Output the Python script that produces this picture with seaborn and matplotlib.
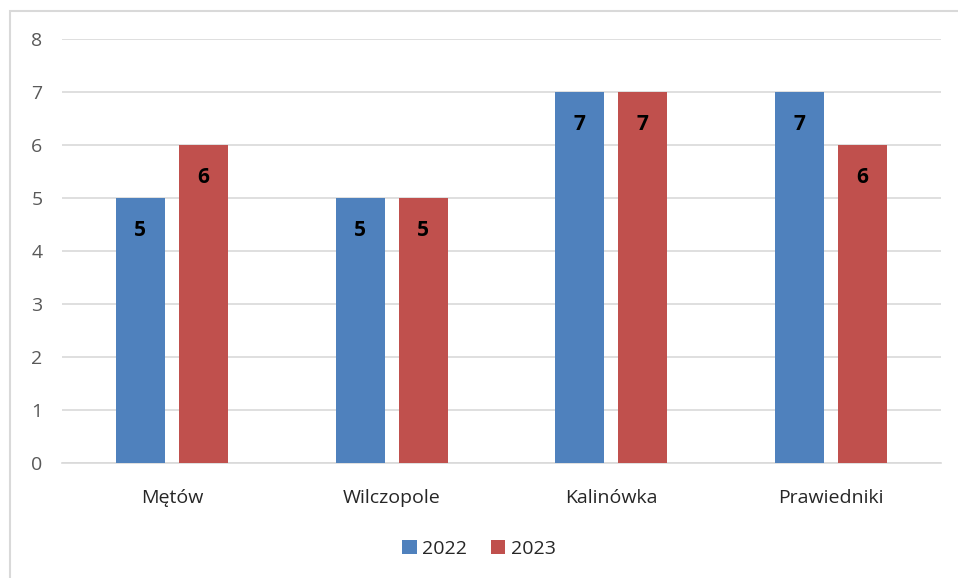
# Bar chart: counts per village, 2022 vs 2023

import pandas as pd
import seaborn as sns
import matplotlib.pyplot as plt
from matplotlib.patches import Rectangle

villages = ["Mętów", "Wilczopole", "Kalinówka", "Prawiedniki"]
years = ["2022", "2023"]
values_2022 = [5, 5, 7, 7]
values_2023 = [6, 5, 7, 6]
y_ticks = [0, 1, 2, 3, 4, 5, 6, 7, 8]

df = pd.DataFrame({
    "Village": villages * 2,
    "Year": [years[0]] * 4 + [years[1]] * 4,
    "Value": values_2022 + values_2023,
})

sns.set_style("white")
plt.rcParams["font.family"] = ["Open Sans", "DejaVu Sans"]

fig = plt.figure(figsize=(9.58, 5.78), dpi=100)
ax = fig.add_axes([0.0647, 0.199, 0.9176, 0.7335])

sns.barplot(data=df, x="Village", y="Value", hue="Year",
            palette=["#4F81BD", "#C0504D"], width=0.573, gap=0.222,
            saturation=1, linewidth=0, ax=ax, zorder=3)

for cont in ax.containers:
    ax.bar_label(cont, padding=-31, fontsize=15, fontweight="bold", color="black")

ax.set_ylim(0, 8)
ax.set_yticks(y_ticks)
ax.set_xlim(-0.5, 3.5)
ax.grid(axis="y", color="#D9D9D9", linewidth=1.2, zorder=0)
ax.tick_params(axis="y", length=0, pad=14, labelsize=14, labelcolor="#595959")
ax.tick_params(axis="x", length=0, pad=19, labelsize=14, labelcolor="#262626")
ax.set_xlabel("")
ax.set_ylabel("")
for s in ["top", "right", "left"]:
    ax.spines[s].set_visible(False)
ax.spines["bottom"].set_color("#D9D9D9")
ax.spines["bottom"].set_linewidth(1.2)

ax.legend(loc="center", bbox_to_anchor=(0.5, 0.05), bbox_transform=fig.transFigure,
          ncol=2, frameon=False, fontsize=14, handlelength=0.75, handleheight=0.75,
          handletextpad=0.3, columnspacing=1.2)

fig.patches.append(Rectangle((10 / 958, -0.01), 1.0, 1.01 - 11 / 578 + 0.0,
                             transform=fig.transFigure, fill=False,
                             edgecolor="#D9D9D9", linewidth=1.5))

fig.savefig("out.png", dpi=100)
